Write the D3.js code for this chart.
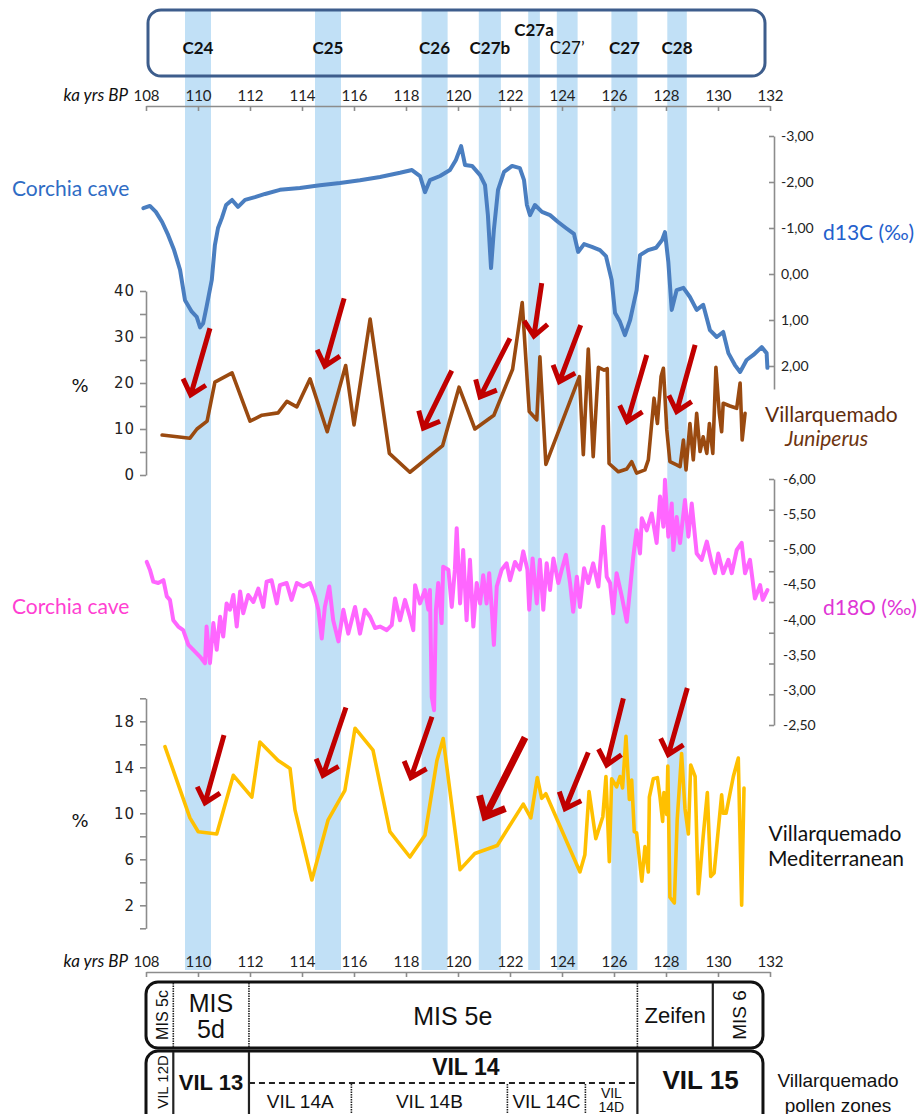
<!DOCTYPE html>
<html><head><meta charset="utf-8">
<script src="https://cdn.jsdelivr.net/npm/d3@7"></script>
<style>body{margin:0;background:#fff}svg{display:block}</style>
</head><body>
<script>
// ---------- DATA ----------
const xTicks = [108,110,112,114,116,118,120,122,124,126,128,130,132];
const bandNames = ["C24","C25","C26","C27b","C27a","C27\u2019","C27","C28"];
const bandStart = [109.5,114.5,118.6,120.8,122.7,123.8,125.9,128.05];
const bandEnd   = [110.5,115.5,119.6,121.65,123.15,124.6,126.9,128.8];
const bandBold  = [true,true,true,true,true,false,true,true];
const bandRaised= [false,false,false,false,true,false,false,false];

const d13Ticks = [-3,-2,-1,0,1,2];
const d13Age = [107.9,108.15,108.38,108.62,108.85,109.08,109.31,109.5,109.76,109.95,110.08,110.2,110.33,110.53,110.65,110.77,110.92,111.08,111.31,111.54,111.81,112.19,112.58,113.15,113.92,114.69,115.46,116.23,117.0,117.77,118.23,118.54,118.73,118.92,119.31,119.69,119.92,120.12,120.27,120.54,120.85,121.04,121.15,121.27,121.38,121.54,121.77,122.08,122.38,122.54,122.65,122.77,122.96,123.23,123.54,123.85,124.15,124.46,124.62,124.85,125.15,125.46,125.69,125.91,126.04,126.23,126.42,126.62,126.87,127.0,127.31,127.62,127.85,127.96,128.09,128.22,128.41,128.67,128.92,129.18,129.43,129.69,129.95,130.2,130.4,130.65,130.85,131.1,131.36,131.68,131.87,131.9];
const d13Val = [-1.43,-1.48,-1.35,-1.13,-0.85,-0.52,-0.09,0.57,0.82,0.93,1.16,1.07,0.71,0.13,-0.63,-1.0,-1.22,-1.5,-1.61,-1.46,-1.61,-1.67,-1.74,-1.83,-1.87,-1.93,-1.98,-2.04,-2.11,-2.2,-2.26,-2.13,-1.78,-2.04,-2.13,-2.26,-2.48,-2.78,-2.37,-2.35,-2.15,-1.93,-1.28,-0.13,-0.96,-1.83,-2.22,-2.35,-2.3,-2.04,-1.5,-1.28,-1.5,-1.35,-1.28,-1.13,-1.0,-0.87,-0.48,-0.65,-0.59,-0.52,-0.39,0.13,0.85,1.04,1.33,1.0,0.35,-0.41,-0.52,-0.57,-0.74,-0.91,-0.26,0.78,0.35,0.3,0.5,0.78,0.67,1.22,1.37,1.26,1.72,1.98,2.13,1.87,1.76,1.59,1.72,2.04];

const junTicks = [0,5,10,15,20,25,30,35,40];
const junAge = [108.62,109.69,109.96,110.35,110.65,111.31,112.0,112.46,113.08,113.42,113.8,114.31,114.97,115.68,116.0,116.62,117.36,118.15,119.41,120.04,120.65,121.38,122.1,122.47,122.74,123.03,123.15,123.38,124.67,124.82,125.01,125.2,125.4,125.62,125.74,125.81,126.17,126.49,126.68,126.87,127.19,127.32,127.54,127.67,127.81,127.9,128.03,128.15,128.41,128.54,128.67,128.77,128.92,129.05,129.18,129.31,129.43,129.57,129.67,129.8,129.92,130.05,130.14,130.2,130.46,130.72,130.85,130.93,131.04];
const junVal = [8.7,8.0,10,11.7,20.2,22.2,11.7,13,13.5,16,14.8,20.9,9.4,23.8,10.9,33.9,4.7,0.6,6.4,19.1,10,13,23,37.5,13.8,12,25.7,2.3,21.4,4.4,27.4,4.0,23.4,22.8,23.1,2.5,0.7,1.3,2.9,0.4,1.1,3.3,16.7,11.2,21.4,23.2,9.8,2.9,2.2,1.8,7.6,1.1,11.2,3.3,13.4,5.1,8.3,4.7,11.2,4.7,23.4,13.4,9.4,15.6,15,14.5,20,7.6,13.4];

const d18Labels = [-6,-5.5,-5,-4.5,-4,-3.5,-3,-2.5];
const d18TickCount = 9;
const d18Age = [108.03,108.15,108.28,108.47,108.67,108.8,108.92,109.05,109.24,109.43,109.63,109.82,110.08,110.27,110.33,110.46,110.59,110.72,110.85,110.97,111.1,111.23,111.36,111.49,111.62,111.74,111.93,112.13,112.32,112.51,112.64,112.83,113.03,113.15,113.41,113.6,113.8,114.05,114.31,114.5,114.63,114.76,114.88,115.05,115.2,115.4,115.59,115.78,116.04,116.23,116.42,116.62,116.81,117.0,117.26,117.45,117.58,117.77,117.96,118.15,118.28,118.35,118.54,118.73,118.86,118.92,118.99,119.08,119.15,119.24,119.37,119.43,119.63,119.76,119.88,119.95,120.08,120.2,120.33,120.46,120.59,120.72,120.85,120.97,121.1,121.2,121.3,121.38,121.49,121.68,121.87,122.0,122.19,122.38,122.51,122.67,122.74,122.87,123.03,123.15,123.28,123.41,123.54,123.67,123.86,123.99,124.15,124.31,124.43,124.57,124.69,124.85,125.01,125.2,125.4,125.59,125.72,125.85,125.97,126.1,126.3,126.49,126.64,126.74,126.87,127.0,127.07,127.26,127.45,127.64,127.77,127.9,127.96,128.09,128.22,128.28,128.41,128.54,128.73,128.86,128.99,129.18,129.37,129.57,129.76,129.88,130.01,130.2,130.4,130.53,130.72,130.91,131.04,131.23,131.42,131.62,131.72,131.9];
const d18Val = [-4.82,-4.71,-4.54,-4.52,-4.56,-4.33,-4.28,-3.99,-3.90,-3.85,-3.64,-3.57,-3.47,-3.38,-3.90,-3.38,-3.95,-3.57,-4.04,-3.76,-4.23,-4.14,-4.35,-3.90,-4.40,-4.09,-4.35,-4.25,-4.44,-4.18,-4.54,-4.56,-4.23,-4.49,-4.52,-4.28,-4.52,-4.47,-4.52,-4.33,-4.14,-3.73,-4.18,-4.47,-3.99,-3.69,-4.14,-3.80,-4.18,-3.80,-4.14,-4.04,-3.88,-3.90,-3.85,-3.92,-4.30,-3.99,-4.28,-4.04,-3.85,-4.49,-4.23,-4.42,-4.14,-4.42,-2.90,-2.71,-4.14,-4.52,-3.95,-4.75,-4.71,-4.18,-4.71,-5.30,-4.23,-4.99,-3.99,-4.85,-3.90,-4.52,-4.23,-4.63,-4.23,-4.66,-4.14,-3.64,-4.47,-4.71,-4.80,-4.56,-4.82,-4.71,-4.97,-4.71,-4.14,-4.87,-4.23,-4.85,-4.14,-4.80,-4.42,-4.87,-4.52,-4.71,-4.92,-4.52,-4.11,-4.61,-4.18,-4.73,-4.52,-4.80,-4.47,-5.32,-4.61,-4.52,-4.09,-4.66,-4.33,-3.97,-4.52,-4.89,-5.27,-4.94,-5.44,-5.27,-5.51,-5.09,-5.75,-5.32,-5.99,-5.18,-5.65,-4.99,-5.46,-5.09,-5.70,-5.18,-5.65,-4.94,-4.85,-5.11,-4.80,-4.66,-4.94,-4.66,-4.85,-4.66,-4.99,-5.09,-4.66,-4.85,-4.30,-4.49,-4.28,-4.42];

const medTicks = [0,2,4,6,8,10,12,14,16,18,20];
const medLabelled = [2,6,10,14,18];
const medAge = [108.73,109.69,110.01,110.72,111.36,112.07,112.38,113.08,113.54,113.73,114.38,115.0,115.65,116.04,116.73,117.38,118.15,118.73,119.19,119.43,120.08,120.65,121.51,122.51,122.8,123.05,123.22,123.38,124.69,124.88,125.04,125.3,125.57,125.69,125.82,125.91,126.1,126.23,126.33,126.46,126.59,126.68,126.78,126.87,127.07,127.19,127.32,127.36,127.51,127.67,127.77,127.87,127.92,128.03,128.07,128.15,128.32,128.43,128.6,128.73,128.86,128.95,129.12,129.24,129.43,129.59,129.72,129.85,130.14,130.2,130.31,130.59,130.78,130.91,131.0];
const medVal = [15.8,9.6,8.4,8.2,13.3,11.4,16.2,14.6,13.9,10.3,4.2,9.4,12.0,17.4,15.5,8.4,6.2,8.1,14.6,16.5,5.1,6.5,7.2,10.8,9.6,13.1,11.3,11.7,4.9,6.4,11.9,7.8,9.7,13.2,5.8,13.0,12.3,13.2,12.2,16.7,11.2,12.9,8.4,8.3,4.1,7.1,4.9,11.4,13.0,13.1,11.4,9.3,11.8,9.9,14.1,2.7,2.2,9.4,15.2,10.4,8.2,14.2,13.2,3.0,8.0,11.8,4.5,4.8,11.6,10.0,10.0,13.2,14.8,2.0,12.2];

// arrows: [tailAge, tailVal, tipAge, tipVal]
const junArrows = [[110.46,31.9,109.72,17.4],[115.62,38.4,114.88,23.7],[119.76,22.7,118.67,10.2],[122.0,29.7,120.85,17.0],[123.22,41.7,122.92,30.2],[124.72,32.6,123.9,20.3],[127.26,26.1,126.51,11.6],[129.12,28.3,128.41,13.8]];
const medArrows = [[111.0,16.8,110.27,10.9],[115.69,19.2,114.81,13.3],[119.0,18.4,118.19,13.1],[122.58,16.6,121.04,9.7],[125.01,15.3,124.12,10.4],[126.36,20.0,125.72,14.2],[128.82,20.9,128.09,15.1]];
const medArrowHeavy = [false,false,false,true,false,false,false];

// zones
const misNames = ["MIS 5c","MIS 5d","MIS 5e","Zeifen","MIS 6"];
const misBounds = [108,109.05,111.96,126.9,129.8,131.73];
const misLabelAge = [108.6,110.5,119.8,128.35,130.82];
const vilNames = ["VIL 12D","VIL 13","VIL 14","VIL 15"];
const vilBounds = [108,109.05,111.96,126.9,131.73];
const vilLabelAge = [108.6,110.5,120.3,129.33];
const vilSubNames = ["VIL 14A","VIL 14B","VIL 14C","VIL 14D"];
const vilSubBounds = [111.96,115.9,121.9,124.9,126.9];

// ---------- DRAW ----------
const W=923,H=1114;
const svg=d3.select("body").append("svg").attr("width",W).attr("height",H);
const x=d3.scaleLinear().domain([108,132]).range([146,770]);
const yC=d3.scaleLinear().domain([-3,2.5]).range([136,389]);
const yJ=d3.scaleLinear().domain([0,40]).range([475,291]);
const yO=d3.scaleLinear().domain([-6,-2.5]).range([479,725]);
const yOt=d3.scaleLinear().domain([0,d18TickCount-1]).range([479,725]);
const yM=d3.scaleLinear().domain([0,20]).range([928.3,698.3]);
const fmtC = v => v.toFixed(2).replace('.', ',');
const GREY="#8c8c8c";
const LATO="Lato, 'Open Sans', sans-serif";
const ARIAL="'Liberation Sans', Arial, sans-serif";

svg.append("g").selectAll("rect").data(d3.range(bandNames.length)).join("rect")
  .attr("x",i=>x(bandStart[i])).attr("width",i=>x(bandEnd[i])-x(bandStart[i]))
  .attr("y",10).attr("height",960).attr("fill","#c1e0f6");

svg.append("rect").attr("x",148).attr("y",10).attr("width",617).attr("height",66)
  .attr("rx",13).attr("fill","none").attr("stroke","#3d5d8c").attr("stroke-width",3);
svg.append("g").selectAll("text").data(d3.range(bandNames.length)).join("text")
  .attr("x",i=>x((bandStart[i]+bandEnd[i])/2)).attr("y",i=>bandRaised[i]?36:54)
  .attr("text-anchor","middle").attr("font-family",LATO).attr("font-size",17)
  .attr("font-weight",i=>bandBold[i]?"bold":"normal").attr("fill","#111")
  .text(i=>bandNames[i]);

function styleAxis(g,font,size,fill){
  g.selectAll(".domain").attr("stroke",GREY).attr("stroke-width",1.6);
  g.selectAll(".tick line").attr("stroke",GREY).attr("stroke-width",1.6);
  g.selectAll("text").attr("font-family",font).attr("font-size",size).attr("fill",fill||"#222");
}
const gxt=svg.append("g").attr("transform","translate(0,106)")
  .call(d3.axisTop(x).tickValues(xTicks).tickSize(-5).tickSizeOuter(0).tickPadding(5).tickFormat(d3.format("d")));
styleAxis(gxt,LATO,15);
const gxb=svg.append("g").attr("transform","translate(0,972)")
  .call(d3.axisTop(x).tickValues(xTicks).tickSize(-5).tickSizeOuter(0).tickPadding(5).tickFormat(d3.format("d")));
styleAxis(gxb,LATO,15);
[101,967].forEach(yy=>svg.append("text").attr("x",128).attr("y",yy).attr("text-anchor","end")
  .attr("font-family",LATO).attr("font-style","italic").attr("font-size",17).attr("fill","#111").text("ka yrs BP"));

const gC=svg.append("g").attr("transform","translate(774,0)")
  .call(d3.axisRight(yC).tickValues(d13Ticks).tickSize(-5).tickSizeOuter(0).tickPadding(7).tickFormat(fmtC));
styleAxis(gC,LATO,14);
const gJ=svg.append("g").attr("transform","translate(146,0)")
  .call(d3.axisLeft(yJ).tickValues(junTicks).tickSize(6).tickSizeOuter(0).tickPadding(5).tickFormat(d=>d%10===0?d:""));
styleAxis(gJ,"'DejaVu Sans', sans-serif",15,"#222");
gJ.selectAll("text").attr("letter-spacing",1);
const gOt=svg.append("g").attr("transform","translate(774,0)")
  .call(d3.axisRight(yOt).tickValues(d3.range(d18TickCount)).tickSize(-5).tickSizeOuter(0).tickFormat(""));
styleAxis(gOt,LATO,14);
const gOl=svg.append("g").attr("transform","translate(774,0)")
  .call(d3.axisRight(yO).tickValues(d18Labels).tickSize(0).tickPadding(9).tickFormat(fmtC));
gOl.select(".domain").remove();
styleAxis(gOl,LATO,14);
const gM=svg.append("g").attr("transform","translate(146,0)")
  .call(d3.axisLeft(yM).tickValues(medTicks).tickSize(6).tickSizeOuter(0).tickPadding(5).tickFormat(d=>medLabelled.includes(d)?d:""));
styleAxis(gM,"'DejaVu Sans', sans-serif",15,"#222");
gM.selectAll("text").attr("letter-spacing",1);

function drawLine(age,val,y,color,w){
  svg.append("path").datum(d3.range(age.length))
    .attr("d",d3.line().x(i=>x(age[i])).y(i=>y(val[i])))
    .attr("fill","none").attr("stroke",color).attr("stroke-width",w)
    .attr("stroke-linejoin","round").attr("stroke-linecap","round");
}
drawLine(d13Age,d13Val,yC,"#4a7ec0",4);
drawLine(junAge,junVal,yJ,"#9a4a10",3.6);
drawLine(d18Age,d18Val,yO,"#ff66ff",4);
drawLine(medAge,medVal,yM,"#ffc000",3.6);

function drawArrows(list,y,heavy){
  list.forEach((a,k)=>{
    const tx=x(a[0]),ty=y(a[1]),hx=x(a[2]),hy=y(a[3]);
    const ang=Math.atan2(ty-hy,tx-hx), L=heavy&&heavy[k]?22:18, s=0.72;
    const w1=[hx+L*Math.cos(ang+s),hy+L*Math.sin(ang+s)];
    const w2=[hx+L*Math.cos(ang-s),hy+L*Math.sin(ang-s)];
    svg.append("path").attr("d",`M${tx},${ty}L${hx},${hy}M${w1[0]},${w1[1]}L${hx},${hy}L${w2[0]},${w2[1]}`)
      .attr("fill","none").attr("stroke","#c00000").attr("stroke-width",heavy&&heavy[k]?7:5)
      .attr("stroke-linejoin","miter");
  });
}
drawArrows(junArrows,yJ);
drawArrows(medArrows,yM,medArrowHeavy);

function label(t,xx,yy,color,size,opts){
  const e=svg.append("text").attr("x",xx).attr("y",yy).attr("font-family",(opts&&opts.font)||LATO)
    .attr("font-size",size).attr("fill",color).attr("dominant-baseline","central").text(t);
  if(opts&&opts.anchor) e.attr("text-anchor",opts.anchor);
  if(opts&&opts.italic) e.attr("font-style","italic");
  if(opts&&opts.bold) e.attr("font-weight","bold");
  return e;
}
label("Corchia cave",12,187,"#2f6cc4",21);
label("d13C (\u2030)",823,231,"#2460cc",21);
label("%",80,385,"#111",18,{font:"'DejaVu Sans', sans-serif",anchor:"middle"});
label("Villarquemado",765,413,"#5e2c0c",21);
label("Juniperus",785,437,"#6e3510",21,{italic:true});
label("Corchia cave",12,605,"#ff3fd2",21);
label("d18O (\u2030)",823,606,"#e035d5",21);
label("%",80,820,"#111",18,{font:"'DejaVu Sans', sans-serif",anchor:"middle"});
label("Villarquemado",835,832,"#111",21,{anchor:"middle"});
label("Mediterranean",836,857,"#111",21,{anchor:"middle"});

const bx0=x(misBounds[0]), bx1=x(misBounds[misBounds.length-1]);
svg.append("rect").attr("x",bx0).attr("y",982).attr("width",bx1-bx0).attr("height",66).attr("rx",12)
  .attr("fill","none").attr("stroke","#111").attr("stroke-width",3);
svg.append("rect").attr("x",bx0).attr("y",1051).attr("width",bx1-bx0).attr("height",80).attr("rx",12)
  .attr("fill","none").attr("stroke","#111").attr("stroke-width",3);
function vline(xx,y1,y2,style){
  const e=svg.append("line").attr("x1",xx).attr("x2",xx).attr("y1",y1).attr("y2",y2).attr("stroke","#222");
  if(style==="dot") e.attr("stroke-width",1.6).attr("stroke-dasharray","1.5,1");
  else e.attr("stroke-width",2.2);
}
vline(x(misBounds[1]),983,1047,"dot");
vline(x(misBounds[2]),983,1047,"dot");
vline(x(misBounds[3]),983,1047,"dot");
vline(x(misBounds[4]),983,1047,"solid");
vline(x(vilBounds[1]),1052,1114,"solid");
vline(x(vilBounds[2]),1052,1114,"solid");
vline(x(vilBounds[3]),1052,1114,"solid");
[1,2,3].forEach(i=>vline(x(vilSubBounds[i]),1084,1114,"dot"));
svg.append("line").attr("x1",x(vilBounds[2])).attr("x2",x(vilBounds[3])).attr("y1",1083).attr("y2",1083)
  .attr("stroke","#222").attr("stroke-width",2).attr("stroke-dasharray","6,4");

function rot(t,xx,yy,size){
  svg.append("text").attr("transform",`translate(${xx},${yy}) rotate(-90)`).attr("text-anchor","middle")
    .attr("dominant-baseline","central").attr("font-family",ARIAL).attr("font-size",size).attr("fill","#111").text(t);
}
rot(misNames[0],x(misLabelAge[0])+1,1015,16);
label("MIS",x(misLabelAge[1]),1003,"#111",25,{font:ARIAL,anchor:"middle"});
label("5d",x(misLabelAge[1]),1029,"#111",25,{font:ARIAL,anchor:"middle"});
label(misNames[2],x(misLabelAge[2]),1016,"#111",25,{font:ARIAL,anchor:"middle"});
label(misNames[3],x(misLabelAge[3]),1015,"#111",22,{font:ARIAL,anchor:"middle"});
rot(misNames[4],x(misLabelAge[4]),1015,19);

rot(vilNames[0],x(vilLabelAge[0])+1,1082,15);
label(vilNames[1],x(vilLabelAge[1]),1082,"#111",22,{font:ARIAL,anchor:"middle",bold:true});
label(vilNames[2],x(vilLabelAge[2]),1067,"#111",23,{font:ARIAL,anchor:"middle",bold:true});
label(vilNames[3],x(vilLabelAge[3]),1080,"#111",26,{font:ARIAL,anchor:"middle",bold:true});
[0,1,2].forEach(i=>label(vilSubNames[i],x((vilSubBounds[i]+vilSubBounds[i+1])/2),1101,"#111",19,{font:ARIAL,anchor:"middle"}));
const m14d=x((vilSubBounds[3]+vilSubBounds[4])/2);
label("VIL",m14d,1093,"#111",14,{font:ARIAL,anchor:"middle"});
label("14D",m14d,1107,"#111",14,{font:ARIAL,anchor:"middle"});
label("Villarquemado",838,1080,"#111",19,{font:ARIAL,anchor:"middle"});
label("pollen zones",838,1105,"#111",19,{font:ARIAL,anchor:"middle"});
</script>
</body></html>
